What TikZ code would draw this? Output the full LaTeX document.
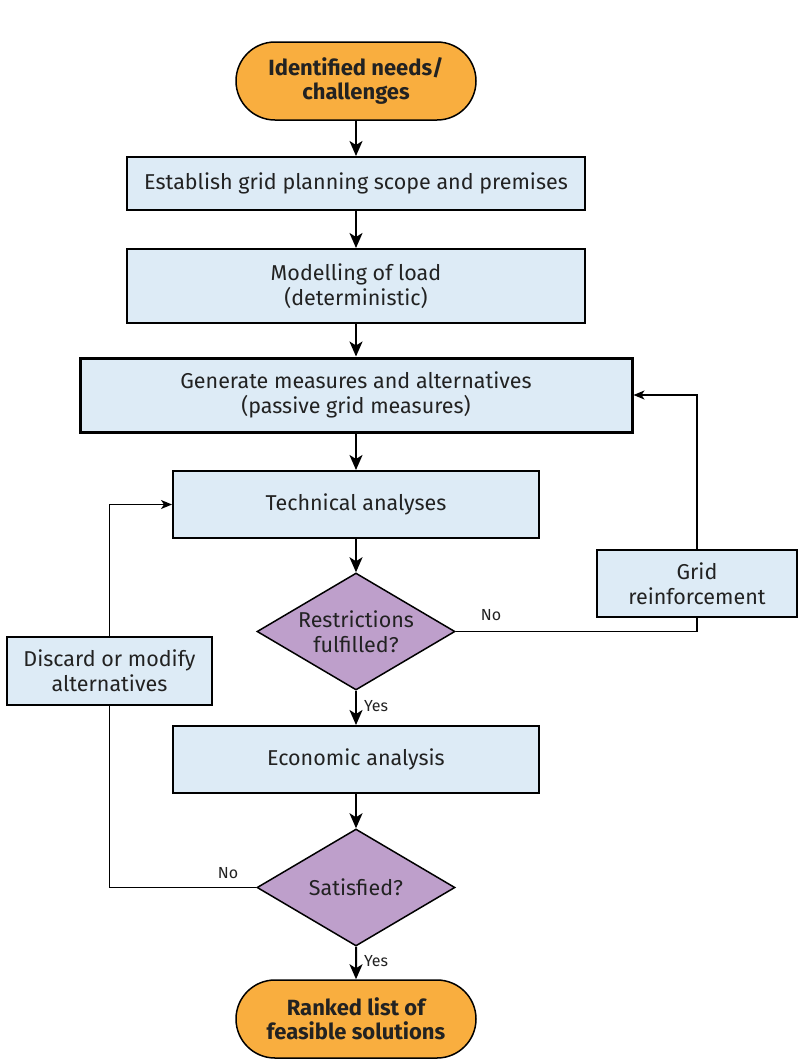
\documentclass[tikz,border=0pt]{standalone}
\usepackage{fontspec}
\setmainfont{Fira Sans}
\usetikzlibrary{shapes.geometric,shapes.misc,arrows.meta}
\definecolor{termfill}{HTML}{F9AE3F}
\definecolor{boxfill}{HTML}{DDEBF6}
\definecolor{decfill}{HTML}{BE9FCB}
\definecolor{ink}{HTML}{222222}
\tikzset{
  base/.style={draw=black, text=ink, align=center, inner sep=0pt, font=\fontsize{21.5}{25}\selectfont},
  terminal/.style={base, rounded rectangle, fill=termfill, line width=1.5pt,
    minimum width=240pt, minimum height=78pt, font=\bfseries\fontsize{22}{24.5}\selectfont},
  procbox/.style={base, rectangle, fill=boxfill, line width=2pt},
  decision/.style={draw=black, diamond, fill=decfill, line width=1.5pt, inner sep=0pt,
    minimum width=198pt, minimum height=117pt},
  dectext/.style={text=ink, align=center, inner sep=0pt, font=\fontsize{21.5}{25}\selectfont},
  flow/.style={line width=2pt, -{Stealth[length=15pt,width=13pt,inset=4pt]}},
  loop/.style={line width=1.2pt, -{Stealth[length=11pt,width=9pt,inset=3pt]}},
  loopline/.style={line width=1.2pt},
  lbl/.style={text=ink, font=\fontsize{16}{18}\selectfont, inner sep=0pt}
}
\begin{document}
\begin{tikzpicture}[x=1pt,y=-1pt]
\path[use as bounding box] (0,0) rectangle (800,1063);

\node[terminal] (start) at (356,81) {Identified needs/\\challenges};
\node[procbox, minimum width=458pt, minimum height=53pt] (scope) at (356,183.5)
  {Establish grid planning scope and premises};
\node[procbox, minimum width=458pt, minimum height=74pt] (load) at (356,286)
  {Modelling of load\\(deterministic)};
\node[procbox, line width=3pt, minimum width=552pt, minimum height=74pt] (gen) at (356,395)
  {Generate measures and alternatives\\(passive grid measures)};
\node[procbox, minimum width=366pt, minimum height=67pt] (tech) at (356,504.5)
  {Technical analyses};
\node[decision] (restr) at (356,631.5) {};
\node[dectext] (restrtext) at (restr.center) {Restrictions\\fulfilled?};
\node[procbox, minimum width=200pt, minimum height=67pt] (reinf) at (697,583.5)
  {Grid\\reinforcement};
\node[procbox, minimum width=205pt, minimum height=68pt] (discard) at (109.5,671)
  {Discard or modify\\alternatives};
\node[procbox, minimum width=366pt, minimum height=67pt] (econ) at (356,759.5)
  {Economic analysis};
\node[decision] (sat) at (356,887.5) {};
\node[dectext] (sattext) at (sat.center) {Satisfied?};
\node[terminal] (end) at (356,1019) {Ranked list of\\feasible solutions};

% main flow
\draw[flow] (start) -- (scope);
\draw[flow] (scope) -- (load);
\draw[flow] (load) -- (gen);
\draw[flow] (gen) -- (tech);
\draw[flow] (tech) -- (restr.north);
\draw[flow] (restr.south) -- (econ) node[lbl, pos=0.45, right=7pt] {Yes};
\draw[flow] (econ) -- (sat.north);
\draw[flow] (sat.south) -- (end) node[lbl, pos=0.45, right=7pt] {Yes};

% reinforcement loop
\draw[loopline] (restr.east) -| (reinf.south);
\node[lbl] (no1) at (491,615) {No};
\draw[loop] (reinf.north) |- (gen.east);

% discard loop
\draw[loopline] (sat.west) -| (discard.south);
\node[lbl] (no2) at (228,873) {No};
\draw[loop] (discard.north) |- (tech.west);
\end{tikzpicture}
\end{document}
